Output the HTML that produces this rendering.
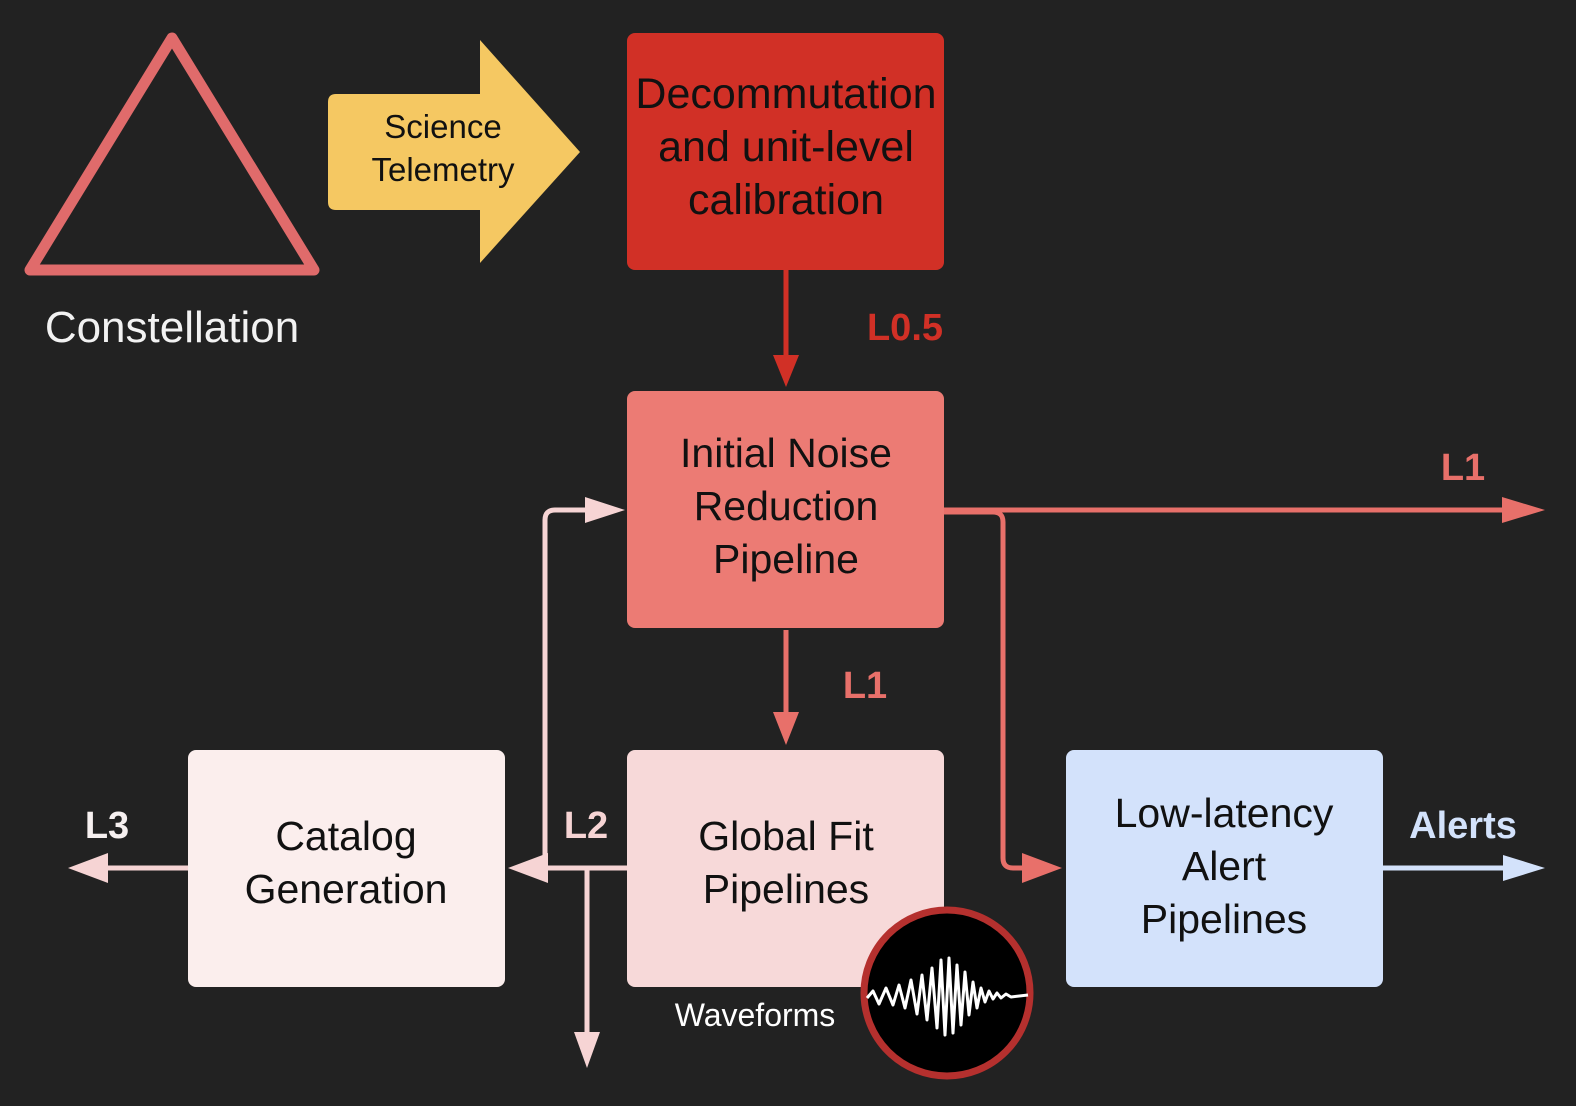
<!DOCTYPE html>
<html><head><meta charset="utf-8"><style>
html,body{margin:0;padding:0;background:#222222;}
svg{display:block}
text{font-family:"Liberation Sans",sans-serif;}
</style></head><body>
<svg width="1576" height="1106" viewBox="0 0 1576 1106" xmlns="http://www.w3.org/2000/svg">
<rect width="1576" height="1106" fill="#222222"/>
<polygon points="172,38 30,270 314,270" fill="none" stroke="#e06b6b" stroke-width="11" stroke-linejoin="round"/>
<text x="172" y="342" font-size="44" fill="#f2f2f2" text-anchor="middle">Constellation</text>
<path d="M336,94 L480,94 L480,40 L580,152 L480,263 L480,210 L336,210 Q328,210 328,202 L328,102 Q328,94 336,94 Z" fill="#f5c862"/>
<text x="443" y="138" font-size="33" fill="#111" text-anchor="middle">Science</text>
<text x="443" y="181" font-size="33" fill="#111" text-anchor="middle">Telemetry</text>
<rect x="627" y="33" width="317" height="237" rx="8" fill="#d13026"/>
<text font-size="43" fill="#111" text-anchor="middle"><tspan x="786" y="108">Decommutation</tspan><tspan x="786" y="161">and unit-level</tspan><tspan x="786" y="214">calibration</tspan></text>
<line x1="786" y1="270" x2="786" y2="360" stroke="#d13026" stroke-width="5"/>
<polygon points="773,355 799,355 786,387" fill="#d13026"/>
<text x="905" y="340" font-size="38" font-weight="bold" fill="#d13026" text-anchor="middle">L0.5</text>
<path d="M944,510 L1505,510" stroke="#e8706a" stroke-width="5" fill="none"/>
<polygon points="1502,497 1545,510 1502,523" fill="#e8706a"/>
<text x="1463" y="480" font-size="38" font-weight="bold" fill="#e8706a" text-anchor="middle">L1</text>
<path d="M944,512 L993,512 Q1003,512 1003,522 L1003,858 Q1003,868 1013,868 L1030,868" stroke="#e8706a" stroke-width="5" fill="none"/>
<polygon points="1022,853 1062,868 1022,883" fill="#e8706a"/>
<rect x="627" y="391" width="317" height="237" rx="8" fill="#ec7b74"/>
<text font-size="41" fill="#111" text-anchor="middle"><tspan x="786" y="467">Initial Noise</tspan><tspan x="786" y="520">Reduction</tspan><tspan x="786" y="573">Pipeline</tspan></text>
<line x1="786" y1="630" x2="786" y2="716" stroke="#e8706a" stroke-width="5"/>
<polygon points="773,712 799,712 786,745" fill="#e8706a"/>
<text x="865" y="698" font-size="38" font-weight="bold" fill="#e8706a" text-anchor="middle">L1</text>
<g stroke="#f6d4d4" stroke-width="5" fill="none">
<path d="M627,868 L540,868"/>
<path d="M545,868 L545,520 Q545,510 555,510 L592,510"/>
<path d="M587,868 L587,1035"/>
<path d="M188,868 L100,868"/>
</g>
<polygon points="508,868 548,853 548,883" fill="#f6d4d4"/>
<polygon points="625,510 585,497 585,523" fill="#f6d4d4"/>
<polygon points="574,1032 600,1032 587,1068" fill="#f6d4d4"/>
<polygon points="68,868 108,853 108,883" fill="#f6d4d4"/>
<text x="586" y="838" font-size="38" font-weight="bold" fill="#f6d4d4" text-anchor="middle">L2</text>
<text x="107" y="838" font-size="38" font-weight="bold" fill="#f6f0f0" text-anchor="middle">L3</text>
<rect x="188" y="750" width="317" height="237" rx="8" fill="#fbeeed"/>
<text font-size="41" fill="#111" text-anchor="middle"><tspan x="346" y="850">Catalog</tspan><tspan x="346" y="903">Generation</tspan></text>
<rect x="627" y="750" width="317" height="237" rx="8" fill="#f7d9d9"/>
<text font-size="41" fill="#111" text-anchor="middle"><tspan x="786" y="850">Global Fit</tspan><tspan x="786" y="903">Pipelines</tspan></text>
<rect x="1066" y="750" width="317" height="237" rx="8" fill="#d3e2fb"/>
<text font-size="41" fill="#111" text-anchor="middle"><tspan x="1224" y="827">Low-latency</tspan><tspan x="1224" y="880">Alert</tspan><tspan x="1224" y="933">Pipelines</tspan></text>
<line x1="1383" y1="868" x2="1510" y2="868" stroke="#d3e2fb" stroke-width="5"/>
<polygon points="1503,855 1545,868 1503,881" fill="#d3e2fb"/>
<text x="1463" y="838" font-size="38" font-weight="bold" fill="#d3e2fb" text-anchor="middle">Alerts</text>
<circle cx="947" cy="993" r="83" fill="#000" stroke="#b5302e" stroke-width="7"/>
<polyline fill="none" stroke="#fff" stroke-width="3" stroke-linejoin="round" points="867,998 873,991 879,1004 886,988 893,1005 899,985 905,1008 911,980 917,1014 922,975 927,1020 932,968 937,1028 941,960 945,1035 949,958 953,1033 957,965 961,1025 965,972 969,1015 973,982 977,1008 981,988 985,1002 989,991 993,999 997,993 1001,998 1006,994 1011,997 1028,995"/>
<text x="755" y="1026" font-size="32" fill="#ffffff" text-anchor="middle">Waveforms</text>
</svg>
</body></html>
